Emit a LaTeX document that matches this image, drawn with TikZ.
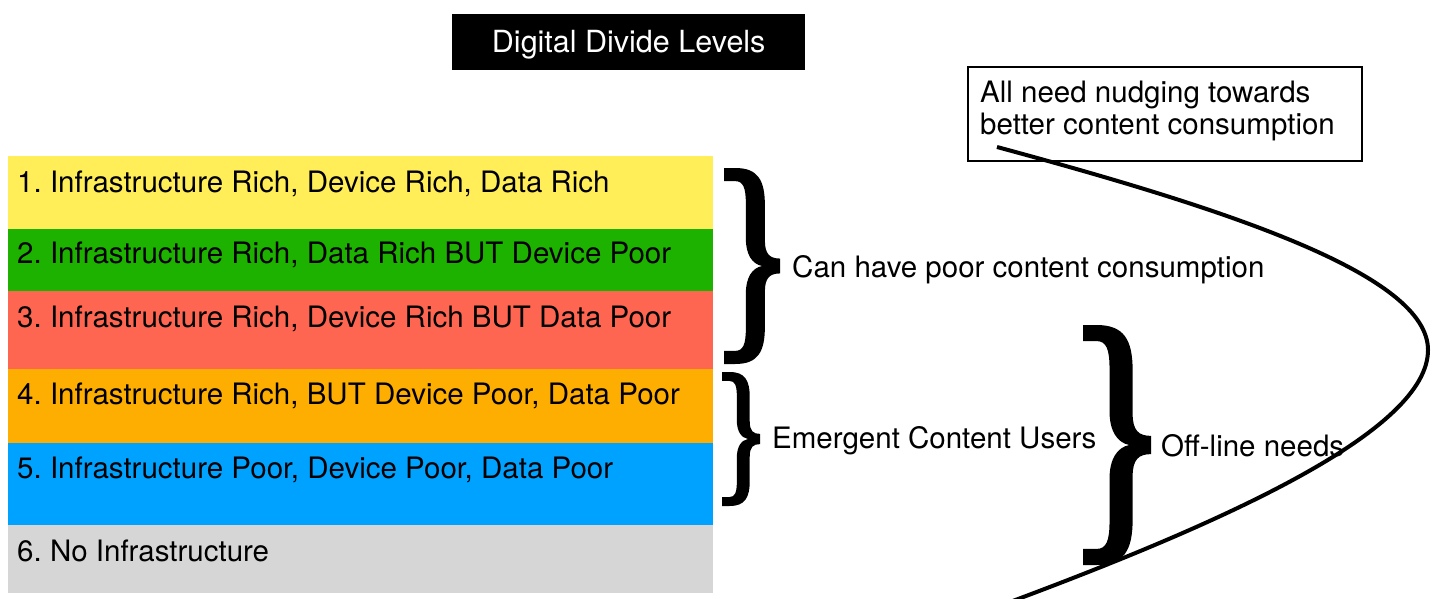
\documentclass[tikz,border=0pt]{standalone}
\usepackage{fontspec}
\setmainfont{TeX Gyre Heros}
\frenchspacing
\definecolor{bandyellow}{HTML}{FFEE57}
\definecolor{bandgreen}{HTML}{1DB100}
\definecolor{bandred}{HTML}{FF6651}
\definecolor{bandorange}{HTML}{FEAE00}
\definecolor{bandblue}{HTML}{00A2FF}
\definecolor{bandgray}{HTML}{D6D6D6}
\newcommand\fatbrace[4]{%
  \begin{scope}[shift={(#1,#2)},x=#3pt,y=-#4pt]
    \fill[black] (0,0) -- (0.2,0) .. controls (0.6,0) and (0.73,0.06) .. (0.73,0.19)
      -- (0.73,0.37) .. controls (0.73,0.44) and (0.82,0.462) .. (1,0.462)
      -- (1,0.538) .. controls (0.82,0.538) and (0.73,0.56) .. (0.73,0.63)
      -- (0.73,0.81) .. controls (0.73,0.94) and (0.6,1) .. (0.2,1)
      -- (0,1) -- (0,0.933) -- (0.2,0.933) .. controls (0.34,0.933) and (0.39,0.9) .. (0.39,0.82)
      -- (0.39,0.64) .. controls (0.39,0.56) and (0.5,0.51) .. (0.68,0.5)
      .. controls (0.5,0.49) and (0.39,0.44) .. (0.39,0.36)
      -- (0.39,0.18) .. controls (0.39,0.1) and (0.34,0.067) .. (0.2,0.067)
      -- (0,0.067) -- cycle;
  \end{scope}}
\tikzset{
  band/.style={fill=#1, draw=none, minimum width=705pt, anchor=north west, inner sep=0pt, outer sep=0pt},
  lbl/.style={font=\fontsize{29.5}{35}\selectfont, inner sep=0pt, anchor=base west, text=black},
}
\begin{document}
\begin{tikzpicture}[x=1pt,y=-1pt]
\useasboundingbox (0,0) rectangle (1435,599);
% title
\node[fill=black, text=white, minimum width=353pt, minimum height=56pt, text height=21pt, text depth=0pt,
      inner sep=0pt, anchor=north west, font=\fontsize{30.5}{36}\selectfont] (title) at (452,14) {Digital Divide Levels};
% bands
\node[band=bandyellow, minimum height=73pt] (band1) at (8,156) {};
\node[band=bandgreen, minimum height=62pt] (band2) at (8,229) {};
\node[band=bandred, minimum height=78pt] (band3) at (8,291) {};
\node[band=bandorange, minimum height=74pt] (band4) at (8,369) {};
\node[band=bandblue, minimum height=82pt] (band5) at (8,443) {};
\node[band=bandgray, minimum height=68pt] (band6) at (8,525) {};
\node[lbl] (t1) at (17,192) {1. Infrastructure Rich, Device Rich, Data Rich};
\node[lbl] (t2) at (17,263) {2. Infrastructure Rich, Data Rich BUT Device Poor};
\node[lbl] (t3) at (17,327) {3. Infrastructure Rich, Device Rich BUT Data Poor};
\node[lbl] (t4) at (17,404) {4. Infrastructure Rich, BUT Device Poor, Data Poor};
\node[lbl] (t5) at (17,478) {5. Infrastructure Poor, Device Poor, Data Poor};
\node[lbl] (t6) at (17,561) {6. No Infrastructure};
% braces
\fatbrace{724}{168}{56}{196}
\fatbrace{722}{372}{38}{134}
\fatbrace{1083}{325}{68}{240}
\node[lbl] (poor) at (792,277) {Can have poor content consumption};
\node[lbl] (emergent) at (772,448) {Emergent Content Users};
\node[lbl] (offline) at (1161,456) {Off-line needs};
% box
\node[draw=black, line width=2pt, minimum width=394pt, minimum height=94pt, anchor=north west, inner sep=0pt] (nudge) at (967,66) {};
\node[lbl] (nudge1) at (980,103) {All need nudging towards};
\node[lbl] (nudge2) at (980,135) {better content consumption};
% curve
\coordinate (cstart) at (997,147);
\coordinate (cmid) at (1428,350);
\coordinate (cend) at (1010,602);
\draw[line width=4pt] (cstart) .. controls (1230,210) and (1428,275) .. (cmid)
  .. controls (1428,430) and (1230,520) .. (cend);
\end{tikzpicture}
\end{document}
